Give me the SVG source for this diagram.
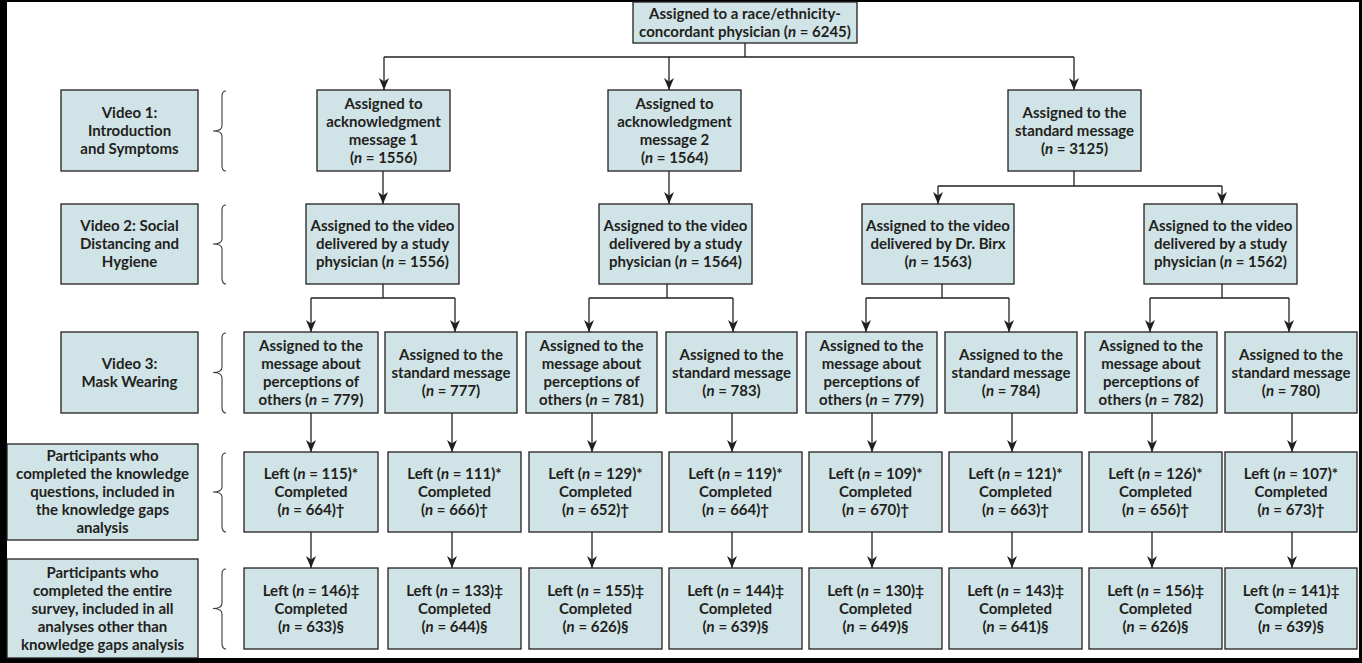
<svg xmlns="http://www.w3.org/2000/svg" width="1362" height="663" viewBox="0 0 1362 663">
<defs>
<style>
.box{fill:#d0e3e6;stroke:#231f20;stroke-width:1.3}
.t{font-family:Lato,"Open Sans","Liberation Sans",sans-serif;font-weight:700;font-size:15px;fill:#231f20;text-anchor:middle}
.i{font-style:italic}
.c{fill:none;stroke:#231f20;stroke-width:1.3}
.br{fill:none;stroke:#3a3a3a;stroke-width:1.1}
</style>
<marker id="ah" markerUnits="userSpaceOnUse" markerWidth="12" markerHeight="10" viewBox="0 0 12 10" refX="12" refY="5" orient="auto">
<path d="M0,0 L12,5 L0,10 L3.5,5 Z" fill="#231f20"/>
</marker>
</defs>
<rect x="0" y="0" width="1362" height="663" fill="#000"/>
<rect x="7" y="2" width="1352" height="656" fill="#fff"/>

<g id="connectors">
<path class="c" d="M745,43 V57 M384,57 H1074"/>
<path class="c" marker-end="url(#ah)" d="M384,57 V90"/>
<path class="c" marker-end="url(#ah)" d="M669,57 V90"/>
<path class="c" marker-end="url(#ah)" d="M1074,57 V90"/>
<path class="c" marker-end="url(#ah)" d="M383,171 V204"/>
<path class="c" marker-end="url(#ah)" d="M669,171 V204"/>
<path class="c" d="M1074,171 V186 M938,186 H1222"/>
<path class="c" marker-end="url(#ah)" d="M938,186 V204"/>
<path class="c" marker-end="url(#ah)" d="M1222,186 V204"/>
<path class="c" d="M383,284 V298 M311,298 H455"/>
<path class="c" marker-end="url(#ah)" d="M311,298 V332"/>
<path class="c" marker-end="url(#ah)" d="M455,298 V332"/>
<path class="c" d="M667,284 V298 M589,298 H733"/>
<path class="c" marker-end="url(#ah)" d="M589,298 V332"/>
<path class="c" marker-end="url(#ah)" d="M733,298 V332"/>
<path class="c" d="M942,284 V298 M866,298 H1009"/>
<path class="c" marker-end="url(#ah)" d="M866,298 V332"/>
<path class="c" marker-end="url(#ah)" d="M1009,298 V332"/>
<path class="c" d="M1222,284 V298 M1150,298 H1289"/>
<path class="c" marker-end="url(#ah)" d="M1150,298 V332"/>
<path class="c" marker-end="url(#ah)" d="M1289,298 V332"/>
<path class="c" marker-end="url(#ah)" d="M311,413 V452"/>
<path class="c" marker-end="url(#ah)" d="M452,413 V452"/>
<path class="c" marker-end="url(#ah)" d="M592,413 V452"/>
<path class="c" marker-end="url(#ah)" d="M732,413 V452"/>
<path class="c" marker-end="url(#ah)" d="M872,413 V452"/>
<path class="c" marker-end="url(#ah)" d="M1012,413 V452"/>
<path class="c" marker-end="url(#ah)" d="M1152,413 V452"/>
<path class="c" marker-end="url(#ah)" d="M1292,413 V452"/>
<path class="c" marker-end="url(#ah)" d="M311,532 V568"/>
<path class="c" marker-end="url(#ah)" d="M452,532 V568"/>
<path class="c" marker-end="url(#ah)" d="M592,532 V568"/>
<path class="c" marker-end="url(#ah)" d="M732,532 V568"/>
<path class="c" marker-end="url(#ah)" d="M872,532 V568"/>
<path class="c" marker-end="url(#ah)" d="M1012,532 V568"/>
<path class="c" marker-end="url(#ah)" d="M1152,532 V568"/>
<path class="c" marker-end="url(#ah)" d="M1292,532 V568"/>
</g>

<g id="braces">
<path class="br" d="M226,91 Q222,91 222,96 V126 Q222,131 213,131 Q222,131 222,136 V166 Q222,171 226,171"/>
<path class="br" d="M226,205 Q222,205 222,210 V239 Q222,244 213,244 Q222,244 222,249 V278 Q222,284 226,284"/>
<path class="br" d="M226,333 Q222,333 222,338 V367 Q222,372.5 213,372.5 Q222,372.5 222,378 V407 Q222,413 226,413"/>
<path class="br" d="M226,453 Q222,453 222,458 V487 Q222,492 213,492 Q222,492 222,497 V526 Q222,532 226,532"/>
<path class="br" d="M226,569 Q222,569 222,574 V603 Q222,608.5 213,608.5 Q222,608.5 222,614 V643 Q222,649 226,649"/>
</g>

<g id="top"><rect class="box" x="633" y="2" width="224" height="41"/>
<text class="t"><tspan x="745" y="18.5">Assigned to a race/ethnicity-</tspan><tspan x="745" y="36.5">concordant physician (<tspan class="i">n</tspan> = 6245)</tspan></text></g>

<g id="label-video1"><rect class="box" x="61" y="90" width="137" height="81"/>
<text class="t"><tspan x="129.5" y="117.5">Video 1:</tspan><tspan x="129.5" y="135.5">Introduction</tspan><tspan x="129.5" y="153.5">and Symptoms</tspan></text></g>
<g id="label-video2"><rect class="box" x="61" y="204" width="137" height="80"/>
<text class="t"><tspan x="129.5" y="231">Video 2: Social</tspan><tspan x="129.5" y="249">Distancing and</tspan><tspan x="129.5" y="267">Hygiene</tspan></text></g>
<g id="label-video3"><rect class="box" x="61" y="332" width="137" height="81"/>
<text class="t"><tspan x="129.5" y="368.5">Video 3:</tspan><tspan x="129.5" y="386.5">Mask Wearing</tspan></text></g>
<g id="label-knowledge"><rect class="box" x="7" y="444" width="191" height="96"/>
<text class="t"><tspan x="102.5" y="461">Participants who</tspan><tspan x="102.5" y="479">completed the knowledge</tspan><tspan x="102.5" y="497">questions, included in</tspan><tspan x="102.5" y="515">the knowledge gaps</tspan><tspan x="102.5" y="533">analysis</tspan></text></g>
<g id="label-survey"><rect class="box" x="7" y="559" width="191" height="99"/>
<text class="t"><tspan x="102.5" y="577.5">Participants who</tspan><tspan x="102.5" y="595.5">completed the entire</tspan><tspan x="102.5" y="613.5">survey, included in all</tspan><tspan x="102.5" y="631.5">analyses other than</tspan><tspan x="102.5" y="649.5">knowledge gaps analysis</tspan></text></g>

<g id="ack1"><rect class="box" x="317" y="90" width="133" height="81"/>
<text class="t"><tspan x="383.5" y="108.5">Assigned to</tspan><tspan x="383.5" y="126.5">acknowledgment</tspan><tspan x="383.5" y="144.5">message 1</tspan><tspan x="383.5" y="162.5">(<tspan class="i">n</tspan> = 1556)</tspan></text></g>
<g id="ack2"><rect class="box" x="608" y="90" width="133" height="81"/>
<text class="t"><tspan x="674.5" y="108.5">Assigned to</tspan><tspan x="674.5" y="126.5">acknowledgment</tspan><tspan x="674.5" y="144.5">message 2</tspan><tspan x="674.5" y="162.5">(<tspan class="i">n</tspan> = 1564)</tspan></text></g>
<g id="standard"><rect class="box" x="1008" y="90" width="133" height="81"/>
<text class="t"><tspan x="1074.5" y="117.5">Assigned to the</tspan><tspan x="1074.5" y="135.5">standard message</tspan><tspan x="1074.5" y="153.5">(<tspan class="i">n</tspan> = 3125)</tspan></text></g>

<g id="video-a1"><rect class="box" x="306" y="204" width="153" height="80"/>
<text class="t"><tspan x="382.5" y="231">Assigned to the video</tspan><tspan x="382.5" y="249">delivered by a study</tspan><tspan x="382.5" y="267">physician (<tspan class="i">n</tspan> = 1556)</tspan></text></g>
<g id="video-a2"><rect class="box" x="599" y="204" width="153" height="80"/>
<text class="t"><tspan x="675.5" y="231">Assigned to the video</tspan><tspan x="675.5" y="249">delivered by a study</tspan><tspan x="675.5" y="267">physician (<tspan class="i">n</tspan> = 1564)</tspan></text></g>
<g id="video-birx"><rect class="box" x="862" y="204" width="152" height="80"/>
<text class="t"><tspan x="938" y="231">Assigned to the video</tspan><tspan x="938" y="249">delivered by Dr. Birx</tspan><tspan x="938" y="267">(<tspan class="i">n</tspan> = 1563)</tspan></text></g>
<g id="video-s"><rect class="box" x="1144" y="204" width="153" height="80"/>
<text class="t"><tspan x="1220.5" y="231">Assigned to the video</tspan><tspan x="1220.5" y="249">delivered by a study</tspan><tspan x="1220.5" y="267">physician (<tspan class="i">n</tspan> = 1562)</tspan></text></g>

<g id="m1"><rect class="box" x="244" y="332" width="134" height="81"/>
<text class="t"><tspan x="311" y="350.5">Assigned to the</tspan><tspan x="311" y="368.5">message about</tspan><tspan x="311" y="386.5">perceptions of</tspan><tspan x="311" y="404.5">others (<tspan class="i">n</tspan> = 779)</tspan></text></g>
<g id="m2"><rect class="box" x="385" y="332" width="132" height="81"/>
<text class="t"><tspan x="451" y="359.5">Assigned to the</tspan><tspan x="451" y="377.5">standard message</tspan><tspan x="451" y="395.5">(<tspan class="i">n</tspan> = 777)</tspan></text></g>
<g id="m3"><rect class="box" x="526" y="332" width="131" height="81"/>
<text class="t"><tspan x="591.5" y="350.5">Assigned to the</tspan><tspan x="591.5" y="368.5">message about</tspan><tspan x="591.5" y="386.5">perceptions of</tspan><tspan x="591.5" y="404.5">others (<tspan class="i">n</tspan> = 781)</tspan></text></g>
<g id="m4"><rect class="box" x="666" y="332" width="131" height="81"/>
<text class="t"><tspan x="731.5" y="359.5">Assigned to the</tspan><tspan x="731.5" y="377.5">standard message</tspan><tspan x="731.5" y="395.5">(<tspan class="i">n</tspan> = 783)</tspan></text></g>
<g id="m5"><rect class="box" x="806" y="332" width="131" height="81"/>
<text class="t"><tspan x="871.5" y="350.5">Assigned to the</tspan><tspan x="871.5" y="368.5">message about</tspan><tspan x="871.5" y="386.5">perceptions of</tspan><tspan x="871.5" y="404.5">others (<tspan class="i">n</tspan> = 779)</tspan></text></g>
<g id="m6"><rect class="box" x="945" y="332" width="132" height="81"/>
<text class="t"><tspan x="1011" y="359.5">Assigned to the</tspan><tspan x="1011" y="377.5">standard message</tspan><tspan x="1011" y="395.5">(<tspan class="i">n</tspan> = 784)</tspan></text></g>
<g id="m7"><rect class="box" x="1085" y="332" width="132" height="81"/>
<text class="t"><tspan x="1151" y="350.5">Assigned to the</tspan><tspan x="1151" y="368.5">message about</tspan><tspan x="1151" y="386.5">perceptions of</tspan><tspan x="1151" y="404.5">others (<tspan class="i">n</tspan> = 782)</tspan></text></g>
<g id="m8"><rect class="box" x="1225" y="332" width="132" height="81"/>
<text class="t"><tspan x="1291" y="359.5">Assigned to the</tspan><tspan x="1291" y="377.5">standard message</tspan><tspan x="1291" y="395.5">(<tspan class="i">n</tspan> = 780)</tspan></text></g>

<g id="k1"><rect class="box" x="244" y="452" width="134" height="80"/>
<text class="t"><tspan x="311" y="479">Left (<tspan class="i">n</tspan> = 115)*</tspan><tspan x="311" y="497">Completed</tspan><tspan x="311" y="515">(<tspan class="i">n</tspan> = 664)†</tspan></text></g>
<g id="k2"><rect class="box" x="388" y="452" width="133" height="80"/>
<text class="t"><tspan x="454.5" y="479">Left (<tspan class="i">n</tspan> = 111)*</tspan><tspan x="454.5" y="497">Completed</tspan><tspan x="454.5" y="515">(<tspan class="i">n</tspan> = 666)†</tspan></text></g>
<g id="k3"><rect class="box" x="529" y="452" width="133" height="80"/>
<text class="t"><tspan x="595.5" y="479">Left (<tspan class="i">n</tspan> = 129)*</tspan><tspan x="595.5" y="497">Completed</tspan><tspan x="595.5" y="515">(<tspan class="i">n</tspan> = 652)†</tspan></text></g>
<g id="k4"><rect class="box" x="669" y="452" width="133" height="80"/>
<text class="t"><tspan x="735.5" y="479">Left (<tspan class="i">n</tspan> = 119)*</tspan><tspan x="735.5" y="497">Completed</tspan><tspan x="735.5" y="515">(<tspan class="i">n</tspan> = 664)†</tspan></text></g>
<g id="k5"><rect class="box" x="809" y="452" width="133" height="80"/>
<text class="t"><tspan x="875.5" y="479">Left (<tspan class="i">n</tspan> = 109)*</tspan><tspan x="875.5" y="497">Completed</tspan><tspan x="875.5" y="515">(<tspan class="i">n</tspan> = 670)†</tspan></text></g>
<g id="k6"><rect class="box" x="949" y="452" width="133" height="80"/>
<text class="t"><tspan x="1015.5" y="479">Left (<tspan class="i">n</tspan> = 121)*</tspan><tspan x="1015.5" y="497">Completed</tspan><tspan x="1015.5" y="515">(<tspan class="i">n</tspan> = 663)†</tspan></text></g>
<g id="k7"><rect class="box" x="1089" y="452" width="133" height="80"/>
<text class="t"><tspan x="1155.5" y="479">Left (<tspan class="i">n</tspan> = 126)*</tspan><tspan x="1155.5" y="497">Completed</tspan><tspan x="1155.5" y="515">(<tspan class="i">n</tspan> = 656)†</tspan></text></g>
<g id="k8"><rect class="box" x="1225" y="452" width="132" height="80"/>
<text class="t"><tspan x="1291" y="479">Left (<tspan class="i">n</tspan> = 107)*</tspan><tspan x="1291" y="497">Completed</tspan><tspan x="1291" y="515">(<tspan class="i">n</tspan> = 673)†</tspan></text></g>

<g id="s1"><rect class="box" x="244" y="568" width="134" height="81"/>
<text class="t"><tspan x="311" y="595.5">Left (<tspan class="i">n</tspan> = 146)‡</tspan><tspan x="311" y="613.5">Completed</tspan><tspan x="311" y="631.5">(<tspan class="i">n</tspan> = 633)§</tspan></text></g>
<g id="s2"><rect class="box" x="388" y="568" width="133" height="81"/>
<text class="t"><tspan x="454.5" y="595.5">Left (<tspan class="i">n</tspan> = 133)‡</tspan><tspan x="454.5" y="613.5">Completed</tspan><tspan x="454.5" y="631.5">(<tspan class="i">n</tspan> = 644)§</tspan></text></g>
<g id="s3"><rect class="box" x="529" y="568" width="133" height="81"/>
<text class="t"><tspan x="595.5" y="595.5">Left (<tspan class="i">n</tspan> = 155)‡</tspan><tspan x="595.5" y="613.5">Completed</tspan><tspan x="595.5" y="631.5">(<tspan class="i">n</tspan> = 626)§</tspan></text></g>
<g id="s4"><rect class="box" x="669" y="568" width="133" height="81"/>
<text class="t"><tspan x="735.5" y="595.5">Left (<tspan class="i">n</tspan> = 144)‡</tspan><tspan x="735.5" y="613.5">Completed</tspan><tspan x="735.5" y="631.5">(<tspan class="i">n</tspan> = 639)§</tspan></text></g>
<g id="s5"><rect class="box" x="809" y="568" width="133" height="81"/>
<text class="t"><tspan x="875.5" y="595.5">Left (<tspan class="i">n</tspan> = 130)‡</tspan><tspan x="875.5" y="613.5">Completed</tspan><tspan x="875.5" y="631.5">(<tspan class="i">n</tspan> = 649)§</tspan></text></g>
<g id="s6"><rect class="box" x="949" y="568" width="133" height="81"/>
<text class="t"><tspan x="1015.5" y="595.5">Left (<tspan class="i">n</tspan> = 143)‡</tspan><tspan x="1015.5" y="613.5">Completed</tspan><tspan x="1015.5" y="631.5">(<tspan class="i">n</tspan> = 641)§</tspan></text></g>
<g id="s7"><rect class="box" x="1089" y="568" width="133" height="81"/>
<text class="t"><tspan x="1155.5" y="595.5">Left (<tspan class="i">n</tspan> = 156)‡</tspan><tspan x="1155.5" y="613.5">Completed</tspan><tspan x="1155.5" y="631.5">(<tspan class="i">n</tspan> = 626)§</tspan></text></g>
<g id="s8"><rect class="box" x="1225" y="568" width="132" height="81"/>
<text class="t"><tspan x="1291" y="595.5">Left (<tspan class="i">n</tspan> = 141)‡</tspan><tspan x="1291" y="613.5">Completed</tspan><tspan x="1291" y="631.5">(<tspan class="i">n</tspan> = 639)§</tspan></text></g>
</svg>
